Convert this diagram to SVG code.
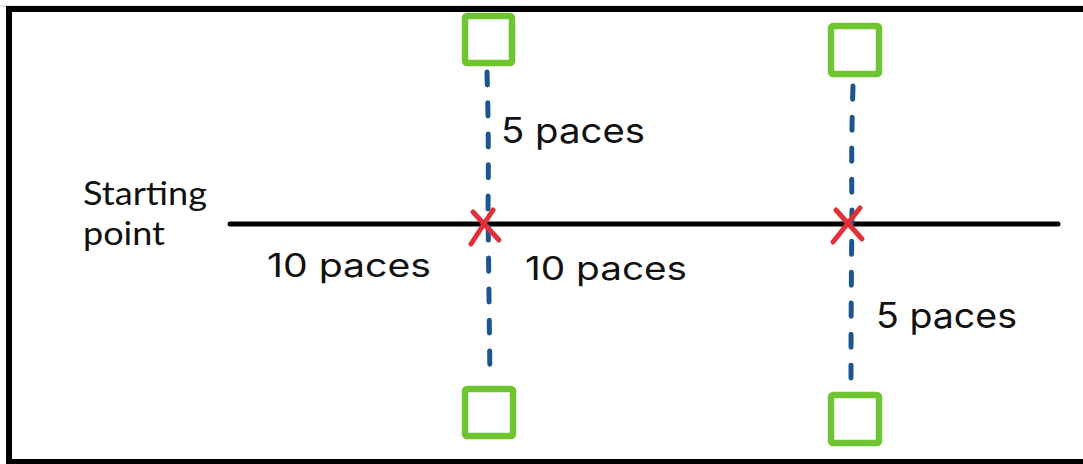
<svg xmlns="http://www.w3.org/2000/svg" width="1083" height="464" viewBox="0 0 1083 464">
  <style>
    .frame { stroke: #000; stroke-width: 6; fill: none; }
    .base { stroke: #000; stroke-width: 5; stroke-linecap: round; fill: none; }
    .pace { stroke: #1d568f; stroke-width: 5; stroke-linecap: round; stroke-dasharray: 13 18; fill: none; }
    .marker-x { stroke: #e0303a; stroke-width: 5; stroke-linecap: round; fill: none; }
    .post { stroke: #6fc531; stroke-width: 6.5; fill: #fff; stroke-linejoin: round; }
    .label { font-family: "Inter", "Liberation Sans", sans-serif; fill: #111; }
    .start { font-family: "Lato", "Open Sans", sans-serif; fill: #111; font-size: 32px; }
  </style>
  <rect width="1083" height="464" fill="#fff"/>

  <!-- outer frame (top, left and bottom edges) -->
  <g id="frame">
    <line x1="0" y1="6" x2="1083" y2="6" stroke="#c8c8c8" stroke-width="1"/>
    <path class="frame" d="M1083 9 H9 V464"/>
    <line class="frame" x1="6" y1="462" x2="1083" y2="462"/>
  </g>

  <!-- connectors: baseline and paced offsets -->
  <g id="connectors">
    <line class="base" x1="230" y1="224" x2="1058" y2="224"/>
    <path class="pace" d="M487 72 Q489 140 488 210 Q489 300 490 380"/>
    <path class="pace" d="M853 86 Q851 150 852 210 Q851 300 851 384"/>
  </g>

  <!-- crossing points on the baseline -->
  <g id="cross-1">
    <path class="marker-x" d="M473 212 L499 240 M493 210 L471 244"/>
  </g>
  <g id="cross-2">
    <path class="marker-x" d="M836 210 L862 239 M860 208 L833 242"/>
  </g>

  <!-- marker posts -->
  <g id="post-top-left"><rect class="post" x="465" y="16" width="47" height="47" rx="2"/></g>
  <g id="post-top-right"><rect class="post" x="831" y="26" width="48" height="48" rx="2"/></g>
  <g id="post-bottom-left"><rect class="post" x="465" y="389" width="48" height="47" rx="2"/></g>
  <g id="post-bottom-right"><rect class="post" x="831" y="395" width="48" height="48" rx="2"/></g>

  <!-- labels -->
  <g id="start-label">
    <text class="start" x="83" y="205" textLength="124" lengthAdjust="spacingAndGlyphs">Starting</text>
    <text class="start" x="83" y="245" textLength="82" lengthAdjust="spacingAndGlyphs">point</text>
  </g>
  <g id="label-10-left">
    <text class="label" x="267" y="277" font-size="32" textLength="164" lengthAdjust="spacingAndGlyphs">10 paces</text>
  </g>
  <g id="label-10-right">
    <text class="label" x="525" y="280" font-size="32" textLength="162" lengthAdjust="spacingAndGlyphs">10 paces</text>
  </g>
  <g id="label-5-top">
    <text class="label" x="501" y="143" font-size="35" textLength="144" lengthAdjust="spacingAndGlyphs">5 paces</text>
  </g>
  <g id="label-5-bottom">
    <text class="label" x="876" y="328" font-size="35" textLength="141" lengthAdjust="spacingAndGlyphs">5 paces</text>
  </g>
</svg>
